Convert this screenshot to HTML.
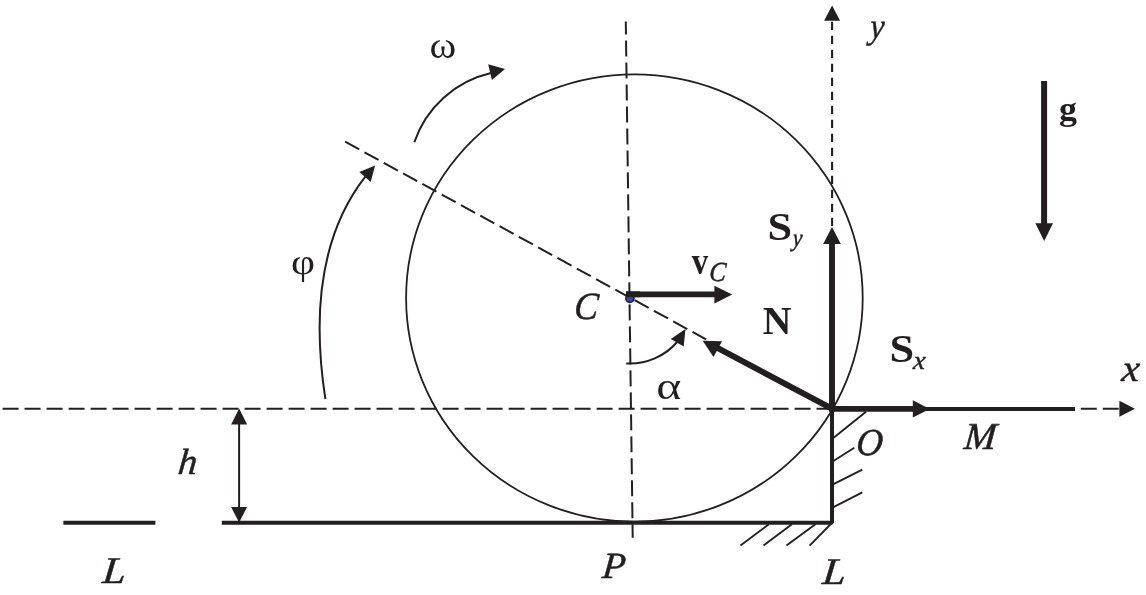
<!DOCTYPE html>
<html lang="en">
<head>
<meta charset="utf-8">
<title>Rolling disc at a step</title>
<style>
html,body{margin:0;padding:0;background:#fff;}
body{width:1146px;height:595px;overflow:hidden;}
svg{display:block;}
text{font-family:"Liberation Serif","DejaVu Serif",serif;fill:#231f20;stroke:#231f20;stroke-width:0.5px;stroke-linejoin:round;}
svg{will-change:transform;}
.it{font-style:italic;font-size:38px;}
.bd{font-weight:bold;font-size:38px;stroke-width:0;}
.gr{font-size:38px;stroke-width:0;}
.sub{font-style:italic;font-weight:normal;font-size:28px;}
</style>
</head>
<body>
<svg width="1146" height="595" viewBox="0 0 1146 595">
<rect width="1146" height="595" fill="#ffffff"/>
<g fill="none" stroke="#231f20" stroke-linecap="butt">
  <!-- disc -->
  <ellipse cx="634.4" cy="298" rx="228.3" ry="223.6" stroke-width="1.8"/>
  <!-- dashed construction lines -->
  <g stroke-width="2" stroke-dasharray="16 6">
    <line x1="2.6" y1="408.8" x2="832" y2="408.8"/>
    <line x1="1080.8" y1="408.8" x2="1120" y2="408.8"/>
    <line x1="625.8" y1="21.4" x2="632.7" y2="537.7" stroke-dashoffset="3"/>
    <line x1="345.2" y1="141.7" x2="706" y2="339.3"/>
  </g>
  <line x1="832.1" y1="21.8" x2="832.1" y2="230" stroke-width="2.1" stroke-dasharray="8.2 5.8"/>
  <!-- ground / step -->
  <g stroke-width="4">
    <line x1="63.4" y1="522.7" x2="155.4" y2="522.7"/>
    <polyline points="221.8,522.7 832,522.7 832,408.6" stroke-linejoin="bevel"/>
    <line x1="926" y1="409" x2="1075" y2="409"/>
  </g>
  <!-- hatching -->
  <g stroke-width="1.9">
    <line x1="740.5" y1="545.6" x2="768.9" y2="524.2"/>
    <line x1="763.5" y1="545.6" x2="791.9" y2="524.2"/>
    <line x1="786.5" y1="545.6" x2="815.4" y2="524.2"/>
    <line x1="809.6" y1="545.6" x2="831.8" y2="523"/>
    <line x1="833" y1="438.2" x2="866" y2="411.7"/>
    <line x1="833" y1="461.2" x2="854.3" y2="447.8"/>
    <line x1="833" y1="484.3" x2="862.3" y2="469.6"/>
    <line x1="833" y1="507.4" x2="862.3" y2="492.3"/>
  </g>
  <!-- thin curved arrows -->
  <g stroke-width="2">
    <path d="M414.3,142.2 A106.1,106.1 0 0 1 491,73"/>
    <path d="M325.4,399 C313.8,324 316.3,239.4 365.5,176.4"/>
    <path d="M626.2,363.5 A62.6,62.6 0 0 0 678,341"/>
    <line x1="239.1" y1="420" x2="239.1" y2="510"/>
  </g>
  <!-- force vectors -->
  <g stroke-width="6">
    <line x1="832" y1="411.6" x2="832" y2="242" stroke-width="5.9"/>
    <line x1="829" y1="408.8" x2="914" y2="408.8" stroke-width="5.7"/>
    <line x1="832.4" y1="408.8" x2="716" y2="347.2"/>
    <line x1="626" y1="294.3" x2="716" y2="294.3" stroke-width="5.8"/>
    <line x1="1044.1" y1="81" x2="1044.1" y2="225" stroke-width="6"/>
  </g>
</g>
<g fill="#231f20" stroke="none">
  <!-- arrow heads -->
  <polygon points="832.1,5.4 824.1,20.8 840.1,20.8"/>
  <polygon points="1134.9,408.8 1119.4,400.8 1119.4,416.8"/>
  <polygon points="832,227 823.2,243.9 840.8,243.9"/>
  <polygon points="929.8,408.9 912.8,400.2 912.8,417.6"/>
  <polygon points="702.7,340.7 722,341.2 713.5,356.9"/>
  <polygon points="732.2,294.6 714.4,285.7 714.4,303.6"/>
  <polygon points="1044.2,240.9 1035.3,223.3 1053,223.3"/>
  <polygon points="505,69 488.2,64.3 491.9,80"/>
  <polygon points="375.1,165.6 359.4,172 370.7,182.1"/>
  <polygon points="685.5,329.1 670.8,339 683.7,346.4"/>
  <polygon points="239.1,408.6 231.1,424.6 247.1,424.6"/>
  <polygon points="239.1,522.5 231.1,507 247.1,507"/>
</g>
<circle cx="629.9" cy="298.4" r="4" fill="#3a46b4" stroke="#231f20" stroke-width="1.7"/>
<line x1="626" y1="294.3" x2="640" y2="294.3" stroke="#231f20" stroke-width="5.8"/>
<!-- labels -->
<g id="labels">
<text class="gr" transform="matrix(1.068 0 0.000 1.008 429.50 58.30)">ω</text>
<text class="gr" transform="matrix(1.095 0 0.000 0.952 291.06 273.64)">φ</text>
<text class="gr" transform="matrix(1.257 0 0.000 0.984 656.31 399.11)">α</text>
<text class="it" transform="matrix(0.945 0 -0.083 1.010 573.54 318.64)">C</text>
<text class="bd" transform="matrix(0.868 0 0.000 0.989 691.70 274.11)">v</text>
<text class="sub" transform="matrix(0.895 0 -0.078 0.982 708.63 281.21)">C</text>
<text class="bd" transform="matrix(1.044 0 0.000 1.040 762.82 333.80)">N</text>
<text class="bd" transform="matrix(1.166 0 0.000 1.037 767.57 240.28)">S</text>
<text class="sub" transform="matrix(0.771 0 -0.067 0.877 792.30 246.42)">y</text>
<text class="bd" transform="matrix(1.166 0 0.000 1.049 889.47 362.48)">S</text>
<text class="sub" transform="matrix(0.971 0 -0.085 0.941 912.69 369.06)">x</text>
<text class="bd" transform="matrix(0.946 0 0.000 0.879 1058.95 120.13)">g</text>
<text class="it" transform="matrix(0.840 0 -0.073 0.926 869.57 38.23)">y</text>
<text class="it" transform="matrix(1.053 0 -0.092 0.983 1120.99 381.25)">x</text>
<text class="it" transform="matrix(1.016 0 -0.089 1.000 963.16 449.15)">M</text>
<text class="it" transform="matrix(0.967 0 -0.085 1.006 855.38 455.45)">O</text>
<text class="it" transform="matrix(1.003 0 -0.088 0.959 177.30 474.06)">h</text>
<text class="it" transform="matrix(1.100 0 -0.096 0.988 101.83 582.75)">L</text>
<text class="it" transform="matrix(1.002 0 -0.088 0.976 601.60 577.66)">P</text>
<text class="it" transform="matrix(1.100 0 -0.096 0.988 821.83 583.85)">L</text>
</g>
</svg>
</body>
</html>
